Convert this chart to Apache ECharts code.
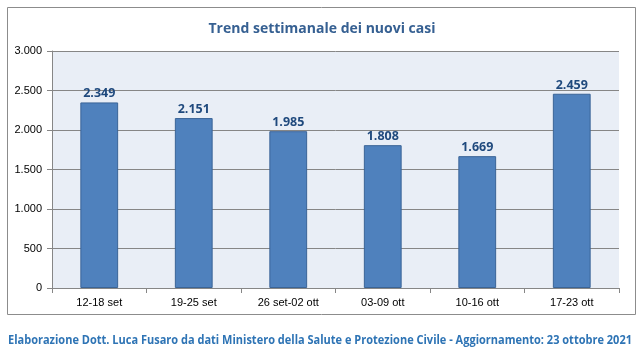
<!DOCTYPE html>
<html><head><meta charset="utf-8">
<script src="https://cdn.jsdelivr.net/npm/echarts@6/dist/echarts.min.js"></script>
<style>html,body{margin:0;padding:0;background:#fff}#c{width:644px;height:352px}</style>
</head><body><div id="c"></div>
<script>
const categories = ['12-18 set','19-25 set','26 set-02 ott','03-09 ott','10-16 ott','17-23 ott'];
const values = [2349, 2151, 1985, 1808, 1669, 2459];
const titleText = 'Trend settimanale dei nuovi casi';
const footerText = 'Elaborazione Dott. Luca Fusaro da dati Ministero della Salute e Protezione Civile - Aggiornamento: 23 ottobre 2021';

const fmt = v => String(v).replace(/\B(?=(\d{3})+(?!\d))/g, '.');
const footFont = 'bold 13px "Open Sans"';
const ctx = document.createElement('canvas').getContext('2d');
ctx.font = footFont;
const footW = ctx.measureText(footerText).width;
const footScale = 624 / footW;

const chart = echarts.init(document.getElementById('c'), null, {renderer:'canvas'});
chart.setOption({
  animation:false,
  title:{text:titleText,left:'center',top:17,textStyle:{fontFamily:'Open Sans',fontSize:14,fontWeight:'bold',color:'#366092'}},
  graphic:[
    {type:'rect',shape:{x:7.5,y:7.5,width:628,height:307},style:{fill:'none',stroke:'#8c8c8c',lineWidth:1},z:-1},
    {type:'text',x:320,y:340,originX:0,originY:0,scaleX:footScale,
      style:{text:footerText,font:footFont,fill:'#2E74B5',textAlign:'center',textVerticalAlign:'middle'}}
  ],
  grid:{left:52,right:25,top:51,bottom:64,backgroundColor:'#E9EEF6',show:true,borderWidth:0},
  xAxis:{type:'category',data:categories,
    axisLine:{lineStyle:{color:'#868686'}},
    axisTick:{show:true,alignWithLabel:false,length:5,lineStyle:{color:'#868686'}},
    axisLabel:{color:'#000',fontFamily:'Liberation Sans',fontSize:11,margin:9}},
  yAxis:{type:'value',min:0,max:3000,interval:500,
    axisLine:{show:true,lineStyle:{color:'#868686'}},
    axisTick:{show:true,length:5,lineStyle:{color:'#868686'}},
    splitLine:{lineStyle:{color:'#868686'}},
    axisLabel:{color:'#000',fontFamily:'Liberation Sans',fontSize:11,margin:10,formatter:fmt}},
  series:[{type:'bar',data:values,barWidth:'40%',
    itemStyle:{color:'#4F81BD',borderColor:'#3A6497',borderWidth:1},
    label:{show:true,position:'top',distance:2,formatter:p=>fmt(p.value),fontFamily:'Open Sans',fontWeight:'bold',fontSize:12.5,color:'#1F497D'}}]
});
</script></body></html>
